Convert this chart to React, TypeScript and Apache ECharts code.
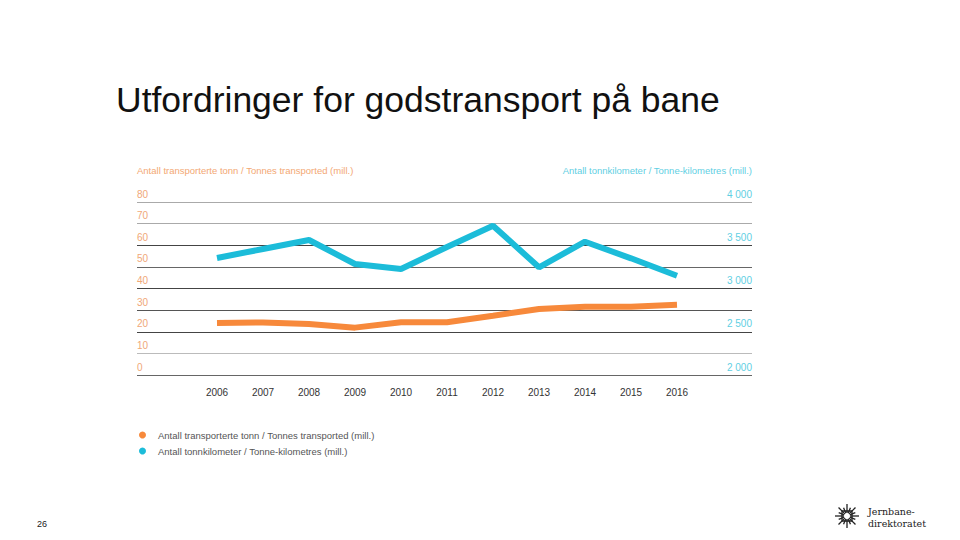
import React, { useEffect, useRef } from "react";
import * as echarts from "echarts";

const years = [2006, 2007, 2008, 2009, 2010, 2011, 2012, 2013, 2014, 2015, 2016];
const tonnes = [24.0, 24.3, 23.6, 21.9, 24.4, 24.4, 27.4, 30.5, 31.6, 31.6, 32.5];
const tonneKm = [3353, 3457, 3561, 3283, 3225, 3480, 3726, 3245, 3541, 3349, 3148];

const leftName = "Antall transporterte tonn / Tonnes transported (mill.)";
const rightName = "Antall tonnkilometer / Tonne-kilometres (mill.)";
const titleText = "Utfordringer for godstransport på bane";

const ORANGE = "#f7893b";
const BLUE = "#1cbcd9";

export default function App() {
  const ref = useRef<HTMLDivElement>(null);
  useEffect(() => {
    if (!ref.current) return;
    const chart = echarts.init(ref.current, undefined, { renderer: "svg" });
    const rays: any[] = [];
    const cx = 847, cy = 516;
    for (let i = 0; i < 16; i++) {
      const a = (i * Math.PI) / 8;
      const r = i % 2 === 0 ? 12 : 9;
      rays.push({
        type: "line",
        shape: { x1: cx + Math.cos(a) * 3, y1: cy + Math.sin(a) * 3, x2: cx + Math.cos(a) * r, y2: cy + Math.sin(a) * r },
        style: { stroke: "#222", lineWidth: 1.3 },
      });
    }
    chart.setOption({
      animation: false,
      backgroundColor: "#ffffff",
      title: {
        text: titleText,
        left: 111,
        top: 77,
        textStyle: { fontFamily: "Liberation Sans", fontWeight: "normal", fontSize: 35.5, color: "#111" },
      },
      grid: { left: 137, right: 208, top: 202, bottom: 165 },
      legend: {
        orient: "vertical",
        left: 134,
        top: 425,
        icon: "circle",
        itemWidth: 7,
        itemHeight: 7,
        itemGap: 6,
        textStyle: { fontFamily: "Liberation Sans", fontSize: 9.5, color: "#555", padding: [0, 0, 0, 7] },
        data: [leftName, rightName],
      },
      xAxis: {
        type: "value",
        min: 2006 - 80 / 46,
        max: 2016 + 75 / 46,
        axisLine: { show: false },
        axisTick: { show: false },
        splitLine: { show: false },
        axisLabel: {
          customValues: years,
          margin: 12,
          formatter: (v: number) => String(Math.round(v)),
          fontFamily: "Liberation Sans",
          fontSize: 10,
          color: "#333",
        },
      },
      yAxis: [
        {
          type: "value",
          min: 0,
          max: 80,
          interval: 10,
          name: leftName,
          nameLocation: "end",
          nameGap: 27,
          nameTextStyle: { align: "left", fontFamily: "Liberation Sans", fontSize: 9.5, color: "#f3a874" },
          axisLine: { show: false },
          axisTick: { show: false },
          axisLabel: {
            inside: true,
            margin: 0,
            verticalAlign: "bottom",
            padding: [0, 0, 3, 0],
            fontFamily: "Liberation Sans",
            fontSize: 10,
            color: "#f0a878",
          },
          splitLine: {
            lineStyle: {
              width: 1,
              color: ["#666", "#bbb", "#444", "#555", "#444", "#666", "#444", "#aaa", "#aaa"],
            },
          },
        },
        {
          type: "value",
          min: 2000,
          max: 4000,
          interval: 250,
          name: rightName,
          nameLocation: "end",
          nameGap: 27,
          nameTextStyle: { align: "right", fontFamily: "Liberation Sans", fontSize: 9.5, color: "#5fcfe3" },
          axisLine: { show: false },
          axisTick: { show: false },
          splitLine: { show: false },
          axisLabel: {
            inside: true,
            margin: 0,
            verticalAlign: "bottom",
            padding: [0, 0, 3, 0],
            fontFamily: "Liberation Sans",
            fontSize: 10,
            color: "#5fcfe3",
            formatter: (v: number) =>
              v % 500 === 0 ? `${Math.floor(v / 1000)} ${String(v % 1000).padStart(3, "0")}` : "",
          },
        },
      ],
      series: [
        {
          name: leftName,
          type: "line",
          yAxisIndex: 0,
          data: years.map((y, i) => [y, tonnes[i]]),
          showSymbol: false,
          symbol: "circle",
          itemStyle: { color: ORANGE },
          lineStyle: { color: ORANGE, width: 6 },
        },
        {
          name: rightName,
          type: "line",
          yAxisIndex: 1,
          data: years.map((y, i) => [y, tonneKm[i]]),
          showSymbol: false,
          symbol: "circle",
          itemStyle: { color: BLUE },
          lineStyle: { color: BLUE, width: 6 },
        },
      ],
      graphic: [
        {
          type: "text",
          left: 37,
          top: 519,
          style: { text: "26", fontFamily: "Liberation Sans", fontSize: 9, fill: "#222" },
        },
        { type: "group", children: rays },
        {
          type: "rect",
          shape: { x: cx - 5, y: cy - 5, width: 10, height: 10 },
          style: { fill: "none", stroke: "#222", lineWidth: 1.3 },
        },
        {
          type: "text",
          left: 868,
          top: 505,
          style: {
            text: "Jernbane-\ndirektoratet",
            fontFamily: "DejaVu Serif",
            fontSize: 9.5,
            lineHeight: 12,
            fill: "#222",
          },
        },
      ],
    });
    return () => chart.dispose();
  }, []);
  return <div ref={ref} style={{ position: "fixed", left: 0, top: 0, width: 960, height: 540 }} />;
}
